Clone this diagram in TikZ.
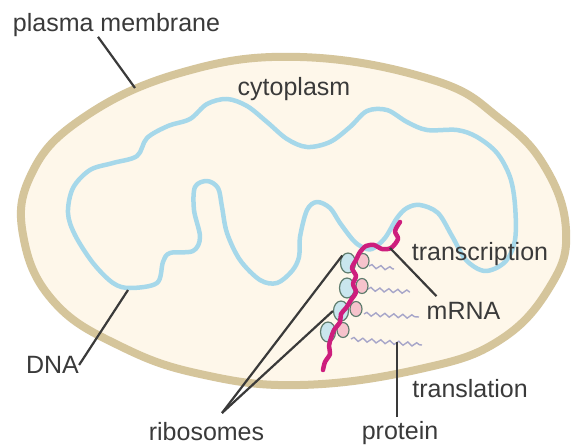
\documentclass[tikz,border=0pt]{standalone}
\usepackage{fontspec}
\setmainfont{Liberation Sans}
\usetikzlibrary{shapes.geometric,decorations.pathmorphing}

\definecolor{membr}{HTML}{D5C59B}
\definecolor{cyto}{HTML}{FEF7EA}
\definecolor{dnablue}{HTML}{A6D8EA}
\definecolor{rnapink}{HTML}{CD1E7D}
\definecolor{ribline}{HTML}{5F7D6E}
\definecolor{ribblue}{HTML}{C9E6EE}
\definecolor{ribpink}{HTML}{F6C3CC}
\definecolor{protcol}{HTML}{A7A6C9}
\definecolor{txtgray}{HTML}{3A3A3A}

\begin{document}
\begin{tikzpicture}[x=1pt, y=-1pt,
  lbl/.style={inner sep=0pt, text=txtgray, font=\fontsize{25}{30}\selectfont},
  lead/.style={draw=txtgray, line width=2.2pt},
  bigsub/.style={ellipse, draw=ribline, fill=ribblue, line width=1.2pt,
    minimum width=15pt, minimum height=20pt, inner sep=0pt},
  smallsub/.style={ellipse, draw=ribline, fill=ribpink, line width=1.2pt,
    minimum width=12pt, minimum height=15pt, inner sep=0pt},
  prot/.style={draw=protcol, line width=1.4pt, decorate,
    decoration={snake, segment length=9pt, amplitude=1.8pt}}]
  \fill[white] (0,0) rectangle (575,446);
  \useasboundingbox (0,0) rectangle (575,446);

  % cell envelope
  \draw[membr, fill=cyto, line width=8pt] plot[smooth cycle, tension=0.7] coordinates {
    (300,57) (433,80) (500,119) (545,167) (566,230) (551,285) (500,340)
    (420,369) (300,385) (200,374) (120,346) (55,303) (24,240) (30,177)
    (80,120) (180,73)};

  % circular chromosome
  \draw[dnablue, line width=4.5pt, line join=round] plot[smooth cycle, tension=0.55] coordinates {
    (68,213) (73,188) (90,170) (113,163) (137,156) (147,138) (168,126)
    (190,119) (207,104) (227,99) (247,106) (267,122) (287,139) (307,147)
    (330,142) (350,127) (367,111) (387,110) (407,122) (427,130) (457,130)
    (477,137) (497,153) (510,177) (515,205) (515,240) (505,262) (485,271)
    (466,260) (452,236) (438,213) (420,205) (407,208) (397,218) (385,238)
    (372,249) (362,247) (353,240) (340,223) (330,208) (317,202) (307,210)
    (300,237) (299,257) (292,271) (277,283) (260,280) (240,260) (227,233)
    (222,207) (218,188) (207,181) (195,187) (194,210) (200,237) (193,251)
    (170,253) (163,262) (157,283) (130,288) (113,283) (93,263) (75,235)};

  % growing proteins
  \draw[prot] (369,266) -- (394,269);
  \draw[prot] (368,289) -- (410,292);
  \draw[prot] (364,314) -- (419,317);
  \draw[prot] (351,339) -- (422,345);

  % ribosomes along the message
  \foreach \n/\x/\y in {1/355/262, 2/354/287, 3/348/310, 4/335/331} {
    \node[bigsub] (L\n) at (\x-7,\y+1) {};
    \node[smallsub] (S\n) at (\x+8,\y-1) {};
  }

  % mRNA
  \draw[rnapink, line width=4.5pt, line join=round, line cap=round]
    plot[smooth, tension=0.5] coordinates {
    (400,222) (395,231) (398,239) (391,248) (382,249) (374,245) (366,246)
    (360,252) (356,260) (352,268) (356,276) (353,284) (356,292) (351,300)
    (346,308) (341,314) (340,322) (334,330) (331,338) (329,346) (330,354)
    (325,362) (323,370)};

  % labels
  \node[lbl] (pm)    at (116.5,25) {plasma membrane};
  \node[lbl] (cyt)   at (294,89)   {cytoplasm};
  \node[lbl] (dnal)  at (52.5,365) {DNA};
  \node[lbl] (rib)   at (206.5,431.5) {ribosomes};
  \node[lbl] (trc)   at (480,254)  {transcription};
  \node[lbl] (mrna)  at (463.5,311) {mRNA};
  \node[lbl] (trl)   at (470,389)  {translation};
  \node[lbl] (prl)   at (400,433)  {protein};

  \coordinate (pmTip)   at (135,88);
  \coordinate (dnaTip)  at (128,290);
  \coordinate (ribFoot) at (222,413);
  \coordinate (mrnaTip) at (390,248);
  \coordinate (protTip) at (397,342);

  \draw[lead] ([xshift=-18.5pt]pm.south) -- (pmTip);
  \draw[lead] (dnal.east) -- (dnaTip);
  \draw[lead] (ribFoot) -- (L1.north west);
  \draw[lead] (ribFoot) -- (L3.west);
  \draw[lead] ([xshift=10pt,yshift=6pt]mrna.north west) -- (mrnaTip);
  \draw[lead] ([xshift=-3pt,yshift=4pt]prl.north) -- (protTip);
\end{tikzpicture}
\end{document}
